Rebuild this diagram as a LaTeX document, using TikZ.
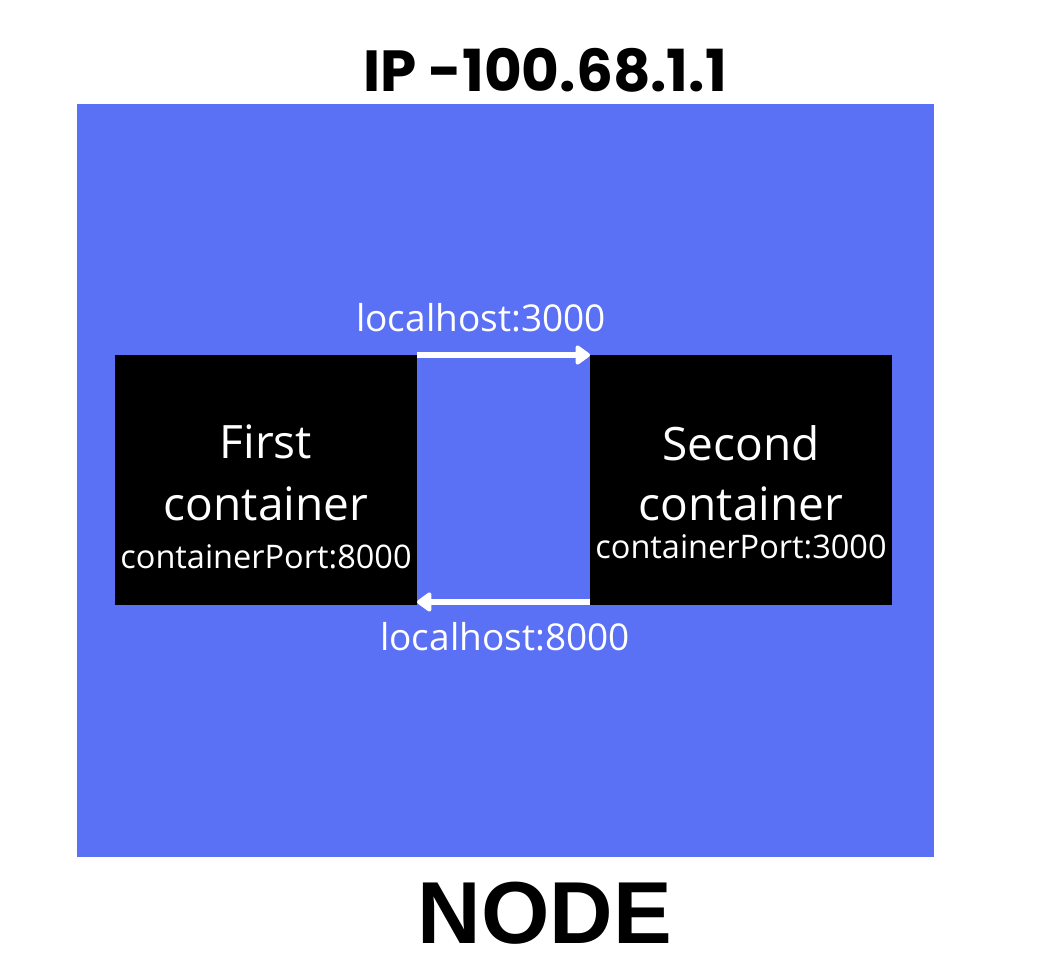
\documentclass[tikz,border=0pt]{standalone}
\usepackage{fontspec}
\setmainfont{Open Sans}
\newfontfamily\ipfont{Poppins}
\newfontfamily\nodefont{Liberation Sans}
\usetikzlibrary{arrows.meta}
\definecolor{nodeblue}{RGB}{90,112,245}
\tikzset{
  cbox/.style={fill=black, draw=none, inner sep=0pt},
  wtxt/.style={text=white, inner sep=0pt, anchor=base},
  big/.style={wtxt, font=\fontsize{46}{52}\selectfont},
  small/.style={wtxt, font=\fontsize{32.5}{36}\selectfont},
  lbl/.style={wtxt, font=\fontsize{37}{40}\selectfont},
  conn/.style={draw=white, line width=6pt, -{Triangle[round, length=16pt, width=22pt]}, shorten >=0pt},
}
\begin{document}
\begin{tikzpicture}[x=1pt,y=-1pt]
\useasboundingbox (0,0) rectangle (1054,976);
\fill[white] (0,0) rectangle (1054,976);
\fill[nodeblue] (77,104) rectangle (934,857);
\node[cbox, minimum width=302pt, minimum height=250pt, anchor=north west] (first) at (115,355) {};
\node[cbox, minimum width=302pt, minimum height=250pt, anchor=north west] (second) at (590,355) {};
\node[big] (f1) at (266,458) {First};
\node[big] (f2) at (266,520) {container};
\node[small] (f3) at (266,568) {containerPort:8000};
\node[big] (s1) at (741,460) {Second};
\node[big] (s2) at (741,520) {container};
\node[small] (s3) at (741,558) {containerPort:3000};
\coordinate (a1s) at (417,355);
\coordinate (a1e) at (590,355);
\coordinate (a2s) at (590,602);
\coordinate (a2e) at (417,602);
\draw[conn] (a1s) -- (a1e);
\draw[conn] (a2s) -- (a2e);
\node[lbl] (l1) at (481,331) {localhost:3000};
\node[lbl] (l2) at (505,650) {localhost:8000};
\node[inner sep=0pt, anchor=base, font=\ipfont\bfseries\fontsize{58}{64}\selectfont] (ip) at (545,92) {IP -100.68.1.1};
\node[inner sep=0pt, anchor=base, font=\nodefont\bfseries\fontsize{88}{96}\selectfont] (nd) at (545,943) {NODE};
\end{tikzpicture}
\end{document}
